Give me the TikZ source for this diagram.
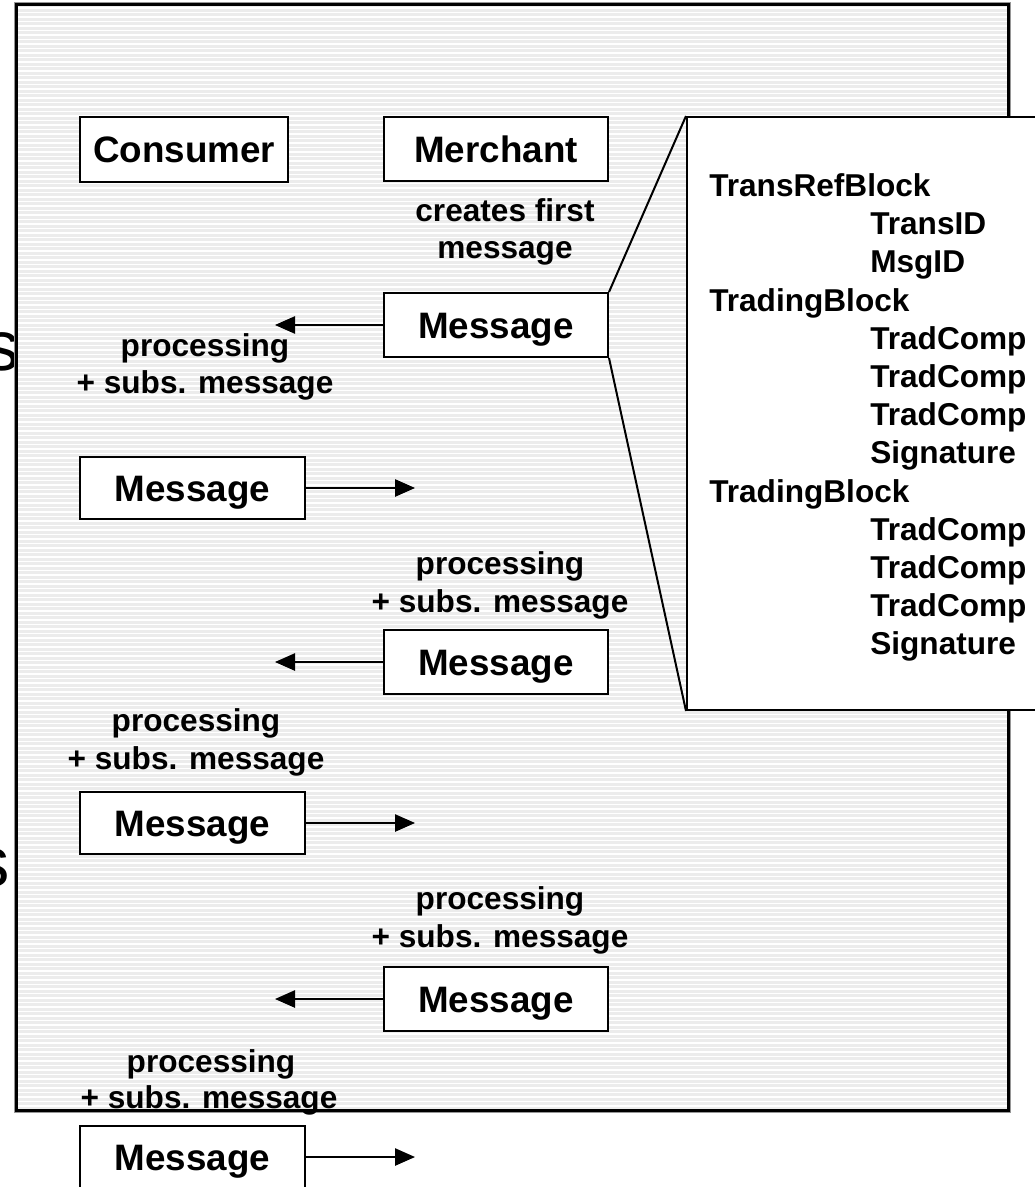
\documentclass[tikz,border=0pt]{standalone}
\usepackage{fontspec}
\setmainfont{Liberation Sans}
\usetikzlibrary{arrows.meta}
\definecolor{bggray}{RGB}{236,236,236}
\definecolor{edgegray}{RGB}{150,150,150}
\begin{document}
\begin{tikzpicture}[x=0.75pt,y=-0.75pt,
  box/.style={draw=black, line width=1.5pt, fill=white, inner sep=0pt,
    text height=19.9pt, text depth=0pt,
    font=\fontsize{27.6}{33}\selectfont\bfseries},
  rbox/.style={box, minimum width=168pt, minimum height=48pt},
  lbox/.style={box, minimum width=168.75pt, minimum height=46.5pt},
  lbl/.style={font=\fontsize{23.7}{28}\selectfont\bfseries, inner sep=0pt, anchor=base},
  det/.style={font=\fontsize{23.7}{28}\selectfont\bfseries, inner sep=0pt, anchor=base west},
  bigs/.style={font=\fontsize{53}{60}\selectfont, inner sep=0pt, anchor=base east},
  conn/.style={line width=1.1pt, -{Triangle[length=15pt,width=13pt]}},
  zoomline/.style={line width=1.5pt}]
\useasboundingbox (0,0) rectangle (1034,1187);
% cut-off letters at the left edge
\node[bigs] (s1) at (20,370) {s};
\node[bigs] (s2) at (10,886) {s};
% striped frame
\fill[bggray] (16,5) rectangle (1008,1110);
\foreach \yy in {8,12.5,...,1108} \draw[white, line width=0.9pt] (16,\yy) -- (1008,\yy);
\draw[edgegray, line width=0.75pt] (14,3) rectangle (1010,1112);
\draw[line width=2.25pt] (16,5) rectangle (1008,1110);
% parties
\node[box, minimum width=156pt, minimum height=48.75pt] (consumer) at (184,149.5) {Consumer};
\node[rbox] (merchant) at (496,149.5) {Merchant};
\node[lbl] (l1a) at (505,222) {creates first};
\node[lbl] (l1b) at (505,259) {message};
% messages
\node[rbox] (m1) at (496,325) {Message};
\coordinate (t1) at (275,325);
\draw[conn] (m1.west) -- (t1);
\node[lbl] (l2a) at (205,356) {processing};
\node[lbl] (l2b) at (205,393) {+ subs. message};
\node[lbox] (m2) at (192.5,488) {Message};
\coordinate (t2) at (415,488);
\draw[conn] (m2.east) -- (t2);
\node[lbl] (l3a) at (500,574) {processing};
\node[lbl] (l3b) at (500,612) {+ subs. message};
\node[rbox] (m3) at (496,662) {Message};
\coordinate (t3) at (275,662);
\draw[conn] (m3.west) -- (t3);
\node[lbl] (l4a) at (196,731) {processing};
\node[lbl] (l4b) at (196,769) {+ subs. message};
\node[lbox] (m4) at (192.5,823) {Message};
\coordinate (t4) at (415,823);
\draw[conn] (m4.east) -- (t4);
\node[lbl] (l5a) at (500,909) {processing};
\node[lbl] (l5b) at (500,947) {+ subs. message};
\node[rbox] (m5) at (496,999) {Message};
\coordinate (t5) at (275,999);
\draw[conn] (m5.west) -- (t5);
\node[lbl] (l6a) at (211,1072) {processing};
\node[lbl] (l6b) at (209,1108) {+ subs. message};
\node[lbox] (m6) at (192.5,1157) {Message};
\coordinate (t6) at (415,1157);
\draw[conn] (m6.east) -- (t6);
% detail of the first message
\node[draw=black, line width=1.5pt, fill=white, minimum width=268.5pt, minimum height=444.75pt, inner sep=0pt] (detail) at (866,413.5) {};
\draw[zoomline] (m1.north east) -- (detail.north west);
\draw[zoomline] (m1.south east) -- (detail.south west);
\node[det] (d1) at (709,196.5) {TransRefBlock};
\node[det] (d2) at (870,234.7) {TransID};
\node[det] (d3) at (870,272.9) {MsgID};
\node[det] (d4) at (709,311.1) {TradingBlock};
\node[det] (d5) at (870,349.3) {TradComp};
\node[det] (d6) at (870,387.5) {TradComp};
\node[det] (d7) at (870,425.7) {TradComp};
\node[det] (d8) at (870,463.9) {Signature};
\node[det] (d9) at (709,502.1) {TradingBlock};
\node[det] (d10) at (870,540.3) {TradComp};
\node[det] (d11) at (870,578.5) {TradComp};
\node[det] (d12) at (870,616.7) {TradComp};
\node[det] (d13) at (870,654.9) {Signature};
\end{tikzpicture}
\end{document}
